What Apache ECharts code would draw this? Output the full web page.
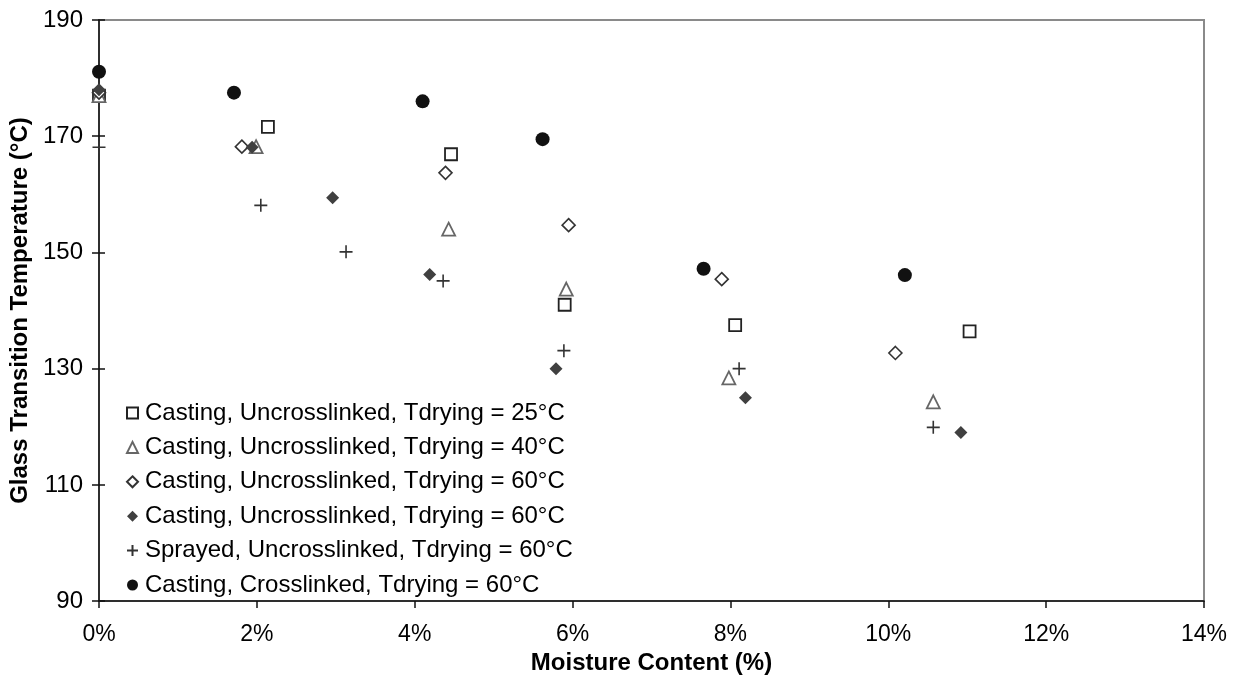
<!DOCTYPE html>
<html>
<head>
<meta charset="utf-8">
<script src="https://cdn.jsdelivr.net/npm/echarts@6/dist/echarts.min.js"></script>
<style>
  html, body { margin: 0; padding: 0; background: #fff; }
  #chart { width: 1239px; height: 680px; }
</style>
</head>
<body>
<div id="chart"></div>
<script>
// moisture content (%) / glass transition temperature (°C)
const cast25 = [[0, 177], [2.14, 171.6], [4.46, 166.9], [5.90, 141.0], [8.06, 137.5], [11.03, 136.4]];
const cast40 = [[0, 177], [1.99, 168.2], [4.43, 154.0], [5.92, 143.7], [7.98, 128.4], [10.57, 124.3]];
const cast60open = [[0, 177.5], [1.81, 168.2], [4.39, 163.7], [5.95, 154.7], [7.89, 145.4], [10.09, 132.7]];
const cast60filled = [[0, 178], [1.94, 168.1], [2.96, 159.4], [4.19, 146.2], [5.79, 130.0], [8.19, 125.0], [10.92, 119.0]];
const sprayed60 = [[0, 168.1], [2.05, 158.1], [3.13, 150.1], [4.36, 145.1], [5.89, 133.1], [8.11, 130.0], [10.57, 119.9]];
const crossCast60 = [[0, 181.1], [1.71, 177.5], [4.10, 176.0], [5.62, 169.5], [7.66, 147.2], [10.21, 146.1]];

const seriesNames = [
  "Casting, Uncrosslinked, Tdrying = 25°C",
  "Casting, Uncrosslinked, Tdrying = 40°C",
  "Casting, Uncrosslinked, Tdrying = 60°C",
  "Casting, Uncrosslinked, Tdrying = 60°C ",
  "Sprayed, Uncrosslinked, Tdrying = 60°C",
  "Casting, Crosslinked, Tdrying = 60°C",
];

const font = "'Liberation Sans', Arial, sans-serif";
const plusPath = "path://M0,5L10,5M5,0L5,10";

const chart = echarts.init(document.getElementById("chart"));

function scatter(name, data, symbol, size, itemStyle) {
  return {
    name,
    type: "scatter",
    data,
    symbol,
    symbolSize: size,
    clip: false,
    itemStyle: Object.assign({ opacity: 1 }, itemStyle),
    emphasis: { disabled: true },
  };
}

const tickStyle = { color: "#111", width: 1.5 };

chart.setOption({
  animation: false,
  backgroundColor: "#fff",
  grid: {
    left: 97, right: 35, top: 20, bottom: 77,
    show: true, borderColor: "#8a8a8a", borderWidth: 2, backgroundColor: "#fff",
  },
  legend: {
    orient: "vertical",
    left: 126,
    top: 398,
    padding: 0,
    itemWidth: 11,
    itemHeight: 11,
    itemGap: 4.4,
    selectedMode: false,
    data: seriesNames,
    textStyle: { fontFamily: font, fontSize: 24, color: "#000", lineHeight: 30, padding: [0, 0, 0, 2] },
    formatter: (n) => n.trim(),
  },
  xAxis: {
    type: "value",
    min: 0, max: 14, interval: 2,
    name: "Moisture Content (%)",
    nameLocation: "middle",
    nameGap: 49,
    nameTextStyle: { fontFamily: font, fontSize: 24, fontWeight: "bold", color: "#000" },
    axisLine: { lineStyle: tickStyle },
    axisTick: { lineStyle: tickStyle, length: 7 },
    axisLabel: { formatter: "{value}%", fontFamily: font, fontSize: 23, color: "#000", margin: 22 },
    splitLine: { show: false },
  },
  yAxis: [
    {
      type: "value",
      min: 90, max: 190, interval: 20,
      name: "Glass Transition Temperature (°C)",
      nameLocation: "middle",
      nameGap: 67,
      nameTextStyle: { fontFamily: font, fontSize: 24, fontWeight: "bold", color: "#000" },
      axisLine: { lineStyle: tickStyle },
      axisTick: { lineStyle: tickStyle, length: 7 },
      axisLabel: { fontFamily: font, fontSize: 24, color: "#000", margin: 16 },
      splitLine: { show: false },
    },
    {
      type: "value",
      position: "left",
      min: 90, max: 190, interval: 20,
      axisLine: { show: false },
      axisTick: { show: true, inside: true, lineStyle: tickStyle, length: 6 },
      axisLabel: { show: false },
      splitLine: { show: false },
    },
  ],
  series: [
    scatter(seriesNames[0], cast25, "rect", 12, { color: "#fff", borderColor: "#222", borderWidth: 1.8 }),
    scatter(seriesNames[1], cast40, "triangle", 13, { color: "#fff", borderColor: "#666", borderWidth: 1.8 }),
    scatter(seriesNames[2], cast60open, "diamond", 13, { color: "#fff", borderColor: "#333", borderWidth: 1.6 }),
    scatter(seriesNames[3], cast60filled, "diamond", 13, { color: "#404040" }),
    scatter(seriesNames[4], sprayed60, plusPath, 13, { color: "rgba(0,0,0,0)", borderColor: "#333", borderWidth: 1.6 }),
    scatter(seriesNames[5], crossCast60, "circle", 14, { color: "#111" }),
  ],
});
</script>
</body>
</html>
